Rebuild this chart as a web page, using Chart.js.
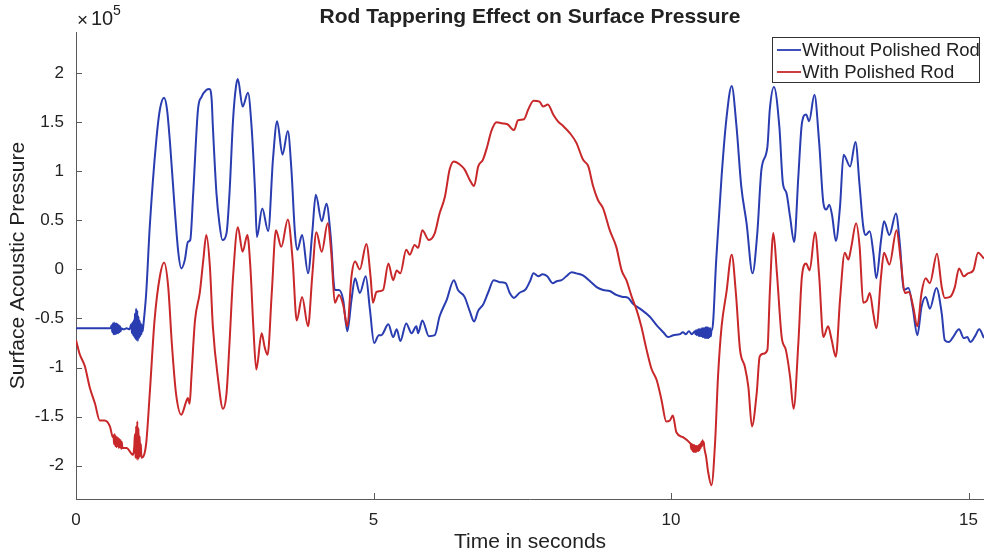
<!DOCTYPE html>
<html>
<head>
<meta charset="utf-8">
<script src="https://cdn.jsdelivr.net/npm/chart.js@4.4.1/dist/chart.umd.min.js"></script>
<style>
  html, body { margin: 0; padding: 0; background: #fff; }
  canvas { display: block; }
</style>
</head>
<body>
<canvas id="myChart" width="984" height="556"></canvas>
<script>
// pressure values are in units of 1e5 (the axis carries the x10^5 factor)
var tWithout = [0, 0.58,
  0.60, 0.61, 0.62, 0.63, 0.64, 0.65, 0.66, 0.67, 0.68, 0.69, 0.70, 0.71, 0.72, 0.73, 0.74, 0.75, 0.76,
  0.80, 0.85, 0.90,
  0.93, 0.94, 0.95, 0.96, 0.97, 0.98, 0.99, 1.00, 1.01, 1.02, 1.03, 1.04, 1.05, 1.06, 1.07, 1.08, 1.09, 1.10, 1.11, 1.12, 1.13,
  1.18, 1.24, 1.35, 1.41, 1.48, 1.53, 1.58, 1.66, 1.72, 1.77, 1.83, 1.88, 1.92, 1.97, 2.05, 2.11, 2.19, 2.24, 2.28, 2.30,
  2.36, 2.41, 2.46, 2.53, 2.58, 2.64, 2.69, 2.72, 2.80, 2.89, 2.95, 3.01, 3.04, 3.13, 3.23, 3.31, 3.38, 3.47, 3.56, 3.62,
  3.68, 3.72, 3.80, 3.90, 3.97, 4.03, 4.13, 4.21, 4.28, 4.35, 4.42, 4.49, 4.56, 4.63, 4.69, 4.77, 4.87, 4.94, 5.01, 5.09,
  5.13, 5.25, 5.33, 5.39, 5.45, 5.55, 5.64, 5.72, 5.75, 5.82, 5.93, 6.03, 6.11, 6.23, 6.35, 6.42, 6.53, 6.62, 6.69, 6.76,
  6.84, 6.93, 7.02, 7.12, 7.22, 7.29, 7.36, 7.45, 7.56, 7.63, 7.69, 7.77, 7.84, 7.92, 8.01, 8.08, 8.16, 8.24, 8.33, 8.41,
  8.52, 8.64, 8.75, 8.86, 8.97, 9.08, 9.19, 9.28, 9.36, 9.50, 9.64, 9.76, 9.87, 9.95, 10.04, 10.15,
  10.20, 10.25, 10.30, 10.35,
  10.40, 10.41, 10.42, 10.43, 10.44, 10.45, 10.46, 10.47, 10.48, 10.49, 10.50, 10.51, 10.52, 10.53, 10.54,
  10.55, 10.56, 10.57, 10.58, 10.59, 10.60, 10.61, 10.62, 10.63, 10.64, 10.65, 10.66, 10.67, 10.68, 10.69,
  10.76, 10.85, 10.93, 11.02, 11.10, 11.18, 11.27, 11.37, 11.45, 11.52, 11.62, 11.66, 11.73, 11.82, 11.88, 11.94, 12.00,
  12.07, 12.14, 12.20, 12.27, 12.32, 12.41, 12.49, 12.56, 12.61, 12.66, 12.71, 12.77, 12.84, 12.90, 13.01, 13.10, 13.17,
  13.23, 13.27, 13.34, 13.40, 13.45, 13.53, 13.58, 13.67, 13.78, 13.85, 13.91, 13.99, 14.06, 14.14, 14.21, 14.28, 14.35,
  14.46, 14.55, 14.60, 14.67, 14.74, 14.84, 14.92, 14.98, 15.03, 15.11, 15.18, 15.26];
var pWithout = [-0.60, -0.60,
  -0.57, -0.64, -0.55, -0.66, -0.54, -0.66, -0.55, -0.66, -0.55, -0.65, -0.56, -0.65, -0.57, -0.64, -0.58, -0.63, -0.60,
  -0.61, -0.60, -0.61,
  -0.56, -0.65, -0.54, -0.67, -0.52, -0.69, -0.45, -0.71, -0.40, -0.72, -0.42, -0.73, -0.48, -0.70, -0.52, -0.68, -0.55, -0.66, -0.57, -0.63, -0.58,
  -0.24, 0.44, 1.32, 1.63, 1.75, 1.63, 1.29, 0.61, 0.17, 0.01, 0.10, 0.28, 0.30, 0.78, 1.63, 1.76, 1.83, 1.84, 1.73, 1.46,
  0.78, 0.47, 0.30, 0.37, 0.78, 1.53, 1.87, 1.94, 1.66, 1.80, 1.46, 0.78, 0.33, 0.62, 0.39, 1.12, 1.51, 1.17, 1.41, 1.02,
  0.37, 0.20, 0.35, -0.04, 0.37, 0.76, 0.49, 0.67, 0.34, -0.21, -0.21, -0.31, -0.63, -0.31, -0.09, -0.24, -0.07, -0.41, -0.75, -0.67,
  -0.67, -0.56, -0.69, -0.61, -0.73, -0.55, -0.65, -0.58, -0.65, -0.52, -0.68, -0.67, -0.48, -0.31, -0.11, -0.21, -0.28, -0.43, -0.53, -0.42,
  -0.36, -0.23, -0.11, -0.13, -0.14, -0.24, -0.29, -0.24, -0.20, -0.12, -0.04, -0.07, -0.05, -0.07, -0.14, -0.12, -0.11, -0.07, -0.03, -0.04,
  -0.06, -0.12, -0.18, -0.21, -0.22, -0.26, -0.28, -0.29, -0.35, -0.41, -0.48, -0.57, -0.64, -0.69, -0.67, -0.66,
  -0.64, -0.66, -0.63, -0.66,
  -0.63, -0.66, -0.62, -0.67, -0.62, -0.67, -0.61, -0.68, -0.61, -0.68, -0.61, -0.68, -0.60, -0.69, -0.60,
  -0.69, -0.60, -0.70, -0.59, -0.70, -0.59, -0.70, -0.59, -0.70, -0.60, -0.69, -0.60, -0.68, -0.62, -0.62,
  0.10, 0.95, 1.53, 1.87, 1.46, 0.85, 0.47, -0.04, 0.37, 1.02, 1.25, 1.63, 1.86, 1.46, 0.88, 0.78, 0.54,
  0.28, 0.95, 1.49, 1.58, 1.51, 1.78, 1.29, 0.68, 0.61, 0.66, 0.54, 0.29, 0.64, 1.17, 1.05, 1.30, 0.85,
  0.44, 0.35, 0.39, 0.17, -0.09, 0.30, 0.49, 0.35, 0.57, 0.23, -0.21, -0.19, -0.38, -0.67, -0.38, -0.28, -0.40,
  -0.19, -0.45, -0.72, -0.74, -0.69, -0.61, -0.70, -0.69, -0.74, -0.68, -0.61, -0.70];

var tWith = [0, 0.06, 0.15, 0.23, 0.32, 0.40, 0.48, 0.57, 0.62,
  0.63, 0.64, 0.65, 0.66, 0.67, 0.68, 0.69, 0.70, 0.71, 0.72, 0.73, 0.74, 0.75, 0.76, 0.77, 0.78,
  0.85, 0.96,
  0.98, 0.99, 1.00, 1.01, 1.02, 1.03, 1.04, 1.05, 1.06, 1.07, 1.08, 1.09, 1.10,
  1.13, 1.18, 1.24, 1.32, 1.41, 1.48, 1.55, 1.61, 1.68, 1.77,
  1.85, 1.88, 1.91, 1.94, 2.00, 2.08, 2.14, 2.19, 2.25, 2.30, 2.39, 2.47, 2.53, 2.58, 2.64, 2.72, 2.80, 2.88,
  2.93, 2.98, 3.03, 3.12, 3.17, 3.22, 3.29, 3.36, 3.45, 3.56, 3.64, 3.71, 3.80, 3.90, 3.97, 4.04, 4.13, 4.23,
  4.29, 4.35, 4.42, 4.49, 4.56, 4.63, 4.69, 4.77, 4.88, 4.95, 4.99, 5.05, 5.16, 5.25, 5.33, 5.39, 5.45, 5.55,
  5.61, 5.69, 5.75, 5.82, 5.93, 6.03, 6.11, 6.20, 6.28, 6.35, 6.45, 6.53, 6.62, 6.69, 6.76, 6.84, 6.91, 6.98,
  7.07, 7.15, 7.25, 7.36, 7.43, 7.53, 7.60, 7.69, 7.79, 7.85, 7.93, 8.02, 8.10, 8.19, 8.30, 8.41, 8.52, 8.61,
  8.69, 8.77, 8.86, 8.97, 9.08, 9.17, 9.25, 9.34, 9.42, 9.50, 9.59, 9.67, 9.76, 9.84, 9.92, 9.98, 10.03, 10.09,
  10.20, 10.32,
  10.33, 10.34, 10.35, 10.36, 10.37, 10.38, 10.39, 10.40, 10.41, 10.42, 10.43, 10.44,
  10.45, 10.46, 10.47, 10.48, 10.49, 10.50, 10.51, 10.52, 10.53, 10.54, 10.55, 10.56,
  10.59, 10.62, 10.68, 10.74, 10.79, 10.85, 10.93, 11.02, 11.09, 11.16, 11.24, 11.30, 11.36, 11.44, 11.49,
  11.55, 11.62, 11.66, 11.72, 11.78, 11.86, 11.93, 12.00, 12.06, 12.14, 12.20, 12.27, 12.33, 12.42, 12.49,
  12.56, 12.64, 12.70, 12.77, 12.84, 12.92, 12.98, 13.03, 13.11, 13.17, 13.23, 13.29, 13.34, 13.40, 13.45,
  13.53, 13.58, 13.67, 13.79, 13.86, 13.93, 14.00, 14.07, 14.14, 14.21, 14.28, 14.35, 14.47, 14.55, 14.60,
  14.69, 14.77, 14.84, 14.92, 14.99, 15.08, 15.16, 15.26];
var pWith = [-0.72, -0.86, -0.99, -1.20, -1.37, -1.54, -1.54, -1.60, -1.71,
  -1.69, -1.78, -1.68, -1.80, -1.70, -1.81, -1.71, -1.80, -1.72, -1.82, -1.73, -1.81, -1.74, -1.83, -1.76, -1.82,
  -1.82, -1.89,
  -1.80, -1.68, -1.92, -1.60, -1.93, -1.55, -1.94, -1.62, -1.92, -1.70, -1.90, -1.78, -1.92,
  -1.91, -1.77, -1.26, -0.52, -0.07, 0.07, -0.18, -0.75, -1.26, -1.48,
  -1.35, -1.31, -1.37, -1.09, -0.52, -0.24, 0.10, 0.35, 0.03, -0.58, -1.13, -1.42, -1.26, -0.75, -0.07, 0.43, 0.18, 0.35,
  0.03, -0.58, -1.02, -0.65, -0.79, -0.87, -0.24, 0.40, 0.23, 0.51, 0.10, -0.52, -0.28, -0.58, -0.07, 0.38, 0.18, 0.47,
  0.17, -0.34, -0.26, -0.36, -0.58, -0.07, 0.08, 0.00, 0.26, -0.07, -0.34, -0.23, -0.21, 0.06, -0.11, -0.01, -0.04, 0.20,
  0.15, 0.25, 0.22, 0.40, 0.30, 0.37, 0.57, 0.74, 1.02, 1.10, 1.07, 1.02, 0.91, 0.85, 1.05, 1.12, 1.25, 1.41,
  1.50, 1.49, 1.48, 1.42, 1.52, 1.53, 1.63, 1.72, 1.71, 1.66, 1.68, 1.58, 1.51, 1.46, 1.39, 1.29, 1.12, 1.05,
  0.85, 0.71, 0.62, 0.40, 0.23, -0.01, -0.11, -0.28, -0.41, -0.58, -0.82, -1.01, -1.13, -1.33, -1.55, -1.54, -1.49, -1.66,
  -1.71, -1.77,
  -1.78, -1.83, -1.78, -1.85, -1.79, -1.86, -1.79, -1.86, -1.80, -1.86, -1.80, -1.85,
  -1.80, -1.85, -1.79, -1.84, -1.78, -1.82, -1.76, -1.80, -1.74, -1.78, -1.76, -1.82,
  -1.91, -2.05, -2.20, -1.77, -1.09, -0.58, -0.24, 0.15, -0.24, -0.82, -0.99, -1.20, -1.60, -1.26, -0.89,
  -0.86, -0.82, -0.24, 0.37, -0.04, -0.69, -0.82, -1.09, -1.42, -0.75, -0.07, 0.06, -0.01, 0.38, -0.07,
  -0.69, -0.58, -0.72, -0.89, -0.31, 0.17, 0.10, 0.23, 0.47, 0.23, -0.34, -0.32, -0.24, -0.45, -0.60,
  -0.07, 0.17, 0.05, 0.40, 0.10, -0.24, -0.23, -0.38, -0.58, -0.24, -0.09, -0.14, 0.16, -0.18, -0.29,
  -0.28, -0.18, 0.01, -0.07, -0.04, -0.01, 0.17, 0.11];

var xTicks = [0, 5, 10, 15];
var yTicks = [-2, -1.5, -1, -0.5, 0, 0.5, 1, 1.5, 2];
var seriesNames = ["Without Polished Rod", "With Polished Rod"];
var seriesColors = ["#2a3db0", "#c8282a"];

var FONT = "'Liberation Sans', Arial, Helvetica, sans-serif";
var TEXT = "#222222";
var AXIS = "#5a5a5a";

function toPoints(ts, ps) {
  var out = [];
  for (var i = 0; i < ts.length; i++) out.push({ x: ts[i], y: ps[i] });
  return out;
}

// title, exponent label, inward tick marks and the boxed legend
var decorations = {
  id: 'decorations',
  afterDraw: function (chart) {
    var ctx = chart.ctx;
    var area = chart.chartArea;
    var xs = chart.scales.x, ys = chart.scales.y;
    ctx.save();

    ctx.strokeStyle = AXIS;
    ctx.lineWidth = 1;
    ctx.beginPath();
    yTicks.forEach(function (v) {
      var py = Math.round(ys.getPixelForValue(v)) + 0.5;
      ctx.moveTo(area.left, py);
      ctx.lineTo(area.left + 6, py);
    });
    xTicks.forEach(function (v) {
      var px = Math.round(xs.getPixelForValue(v)) + 0.5;
      ctx.moveTo(px, area.bottom);
      ctx.lineTo(px, area.bottom - 6);
    });
    ctx.stroke();

    ctx.fillStyle = TEXT;
    ctx.textBaseline = 'middle';
    ctx.textAlign = 'center';
    ctx.font = "bold 21px " + FONT;
    ctx.fillText("Rod Tappering Effect on Surface Pressure", (area.left + area.right) / 2, 17);

    ctx.textAlign = 'left';
    ctx.font = "19px " + FONT;
    ctx.fillText("\u00d7", 77, 21);
    ctx.font = "20px " + FONT;
    ctx.fillText("10", 91, 19);
    ctx.font = "14px " + FONT;
    ctx.fillText("5", 113, 11);

    // legend
    var bx = 772.5, by = 37.5, bw = 207, bh = 45;
    ctx.fillStyle = "#ffffff";
    ctx.fillRect(bx, by, bw, bh);
    ctx.font = "18.5px " + FONT;
    ctx.textBaseline = 'middle';
    chart.data.datasets.forEach(function (ds, i) {
      var ly = 50 + i * 22;
      ctx.strokeStyle = ds.borderColor;
      ctx.lineWidth = 1.8;
      ctx.beginPath();
      ctx.moveTo(777, ly);
      ctx.lineTo(801, ly);
      ctx.stroke();
      ctx.fillStyle = TEXT;
      ctx.fillText(ds.label, 802, ly + 1);
    });
    ctx.strokeStyle = "#333333";
    ctx.lineWidth = 1;
    ctx.strokeRect(bx, by, bw, bh);
    ctx.restore();
  }
};

var ctx = document.getElementById("myChart").getContext('2d');
var chart = new Chart(ctx, {
  type: 'line',
  data: {
    datasets: [{
      label: seriesNames[0],
      data: toPoints(tWithout, pWithout),
      borderColor: seriesColors[0],
      borderWidth: 2,
      pointRadius: 0,
      cubicInterpolationMode: 'monotone',
      order: 1
    }, {
      label: seriesNames[1],
      data: toPoints(tWith, pWith),
      borderColor: seriesColors[1],
      borderWidth: 2,
      pointRadius: 0,
      cubicInterpolationMode: 'monotone',
      order: 0
    }]
  },
  options: {
    responsive: false,
    animation: false,
    devicePixelRatio: 1,
    layout: { padding: { top: 32, right: 0, left: 0, bottom: 0 } },
    plugins: {
      legend: { display: false },
      tooltip: { enabled: false }
    },
    scales: {
      x: {
        type: 'linear',
        min: 0,
        max: 15.26,
        afterBuildTicks: function (scale) {
          scale.ticks = xTicks.map(function (v) { return { value: v }; });
        },
        afterFit: function (scale) {
          scale.height = 57;
          scale.paddingLeft = 0;
          scale.paddingRight = 0;
        },
        grid: { display: false, drawTicks: false },
        border: { display: true, color: AXIS, width: 1 },
        ticks: {
          color: TEXT,
          padding: 11,
          maxRotation: 0,
          font: { family: FONT, size: 17 },
          callback: function (v) { return String(v); }
        },
        title: {
          display: true,
          text: "Time in seconds",
          color: TEXT,
          font: { family: FONT, size: 21 },
          padding: { top: 0, bottom: 1 }
        }
      },
      y: {
        type: 'linear',
        min: -2.34,
        max: 2.42,
        afterBuildTicks: function (scale) {
          scale.ticks = yTicks.map(function (v) { return { value: v }; });
        },
        afterFit: function (scale) { scale.width = 76; },
        grid: { display: false, drawTicks: false },
        border: { display: true, color: AXIS, width: 1 },
        ticks: {
          color: TEXT,
          padding: 12,
          font: { family: FONT, size: 17 },
          callback: function (v) { return String(v); }
        },
        title: {
          display: true,
          text: "Surface Acoustic Pressure",
          color: TEXT,
          font: { family: FONT, size: 21 },
          padding: { top: 6, bottom: 0 }
        }
      }
    }
  },
  plugins: [decorations]
});
</script>
</body>
</html>
